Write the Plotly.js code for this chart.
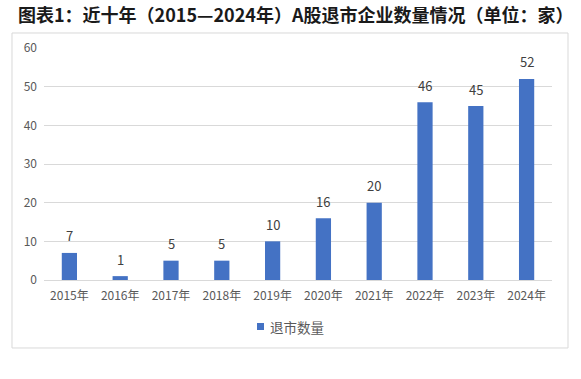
<!DOCTYPE html>
<html>
<head>
<meta charset="utf-8">
<script src="https://cdn.plot.ly/plotly-3.0.1.min.js"></script>
<style>html,body{margin:0;padding:0;background:#fff;}#chart{width:581px;height:379px;}</style>
</head>
<body>
<div id="chart"></div>
<script>
const years = ["2015年","2016年","2017年","2018年","2019年","2020年","2021年","2022年","2023年","2024年"];
const delisted = [7, 1, 5, 5, 10, 16, 20, 46, 45, 52];
const seriesName = "退市数量";
const yTicks = [0, 10, 20, 30, 40, 50, 60];

const font = "Noto Sans CJK SC, sans-serif";
const barColor = "#4472C4";
const trace = {
  type: "bar",
  x: years,
  y: delisted,
  name: seriesName,
  marker: {color: barColor},
  hoverinfo: "none",
  showlegend: false
};
const labelAnnotations = years.map((yr, i) => ({
  x: yr, y: delisted[i], xref: "x", yref: "y",
  text: String(delisted[i]), showarrow: false,
  yanchor: "middle", yshift: 17,
  font: {family: font, size: 13, color: "#404040"}
}));
const legendAnnotation = {
  xref: "paper", yref: "paper",
  x: (268 - 44) / 508, xanchor: "left",
  y: (280 - 327) / 232, yanchor: "middle",
  text: seriesName, showarrow: false,
  font: {family: font, size: 13.5, color: "#595959"}
};
const layout = {
  width: 581, height: 379,
  margin: {l: 44, r: 29, t: 48, b: 99},
  paper_bgcolor: "#ffffff",
  plot_bgcolor: "#ffffff",
  bargap: 0.7,
  title: {
    text: "<b>图表1：近十年（2015—2024年）A股退市企业数量情况（单位：家）</b>",
    font: {family: font, size: 18, color: "#1a1a1a"},
    xref: "container", yref: "container",
    x: 18/581, xanchor: "left",
    y: 1 - 16/379, yanchor: "middle"
  },
  xaxis: {
    type: "category",
    tickfont: {family: font, size: 12, color: "#595959"},
    showline: true, linecolor: "#d9d9d9", linewidth: 1,
    ticks: "", showgrid: false, fixedrange: true,
    ticklabelstandoff: 5
  },
  yaxis: {
    range: [0, 60],
    tickvals: yTicks,
    tickfont: {family: font, size: 12, color: "#595959"},
    showgrid: true, gridcolor: "#d9d9d9", gridwidth: 1,
    zeroline: false, showline: false, ticks: "",
    ticklabelstandoff: 6,
    fixedrange: true
  },
  showlegend: false,
  annotations: labelAnnotations.concat([legendAnnotation]),
  shapes: [{
    type: "rect", xref: "paper", yref: "paper",
    x0: -0.063, x1: 1.0315, y0: -0.293, y1: 1.0647,
    line: {color: "#d9d9d9", width: 1}, fillcolor: "rgba(0,0,0,0)", layer: "below"
  }, {
    type: "rect", xref: "paper", yref: "paper",
    x0: (257 - 44) / 508, x1: (264 - 44) / 508,
    y0: (280 - 323) / 232, y1: (280 - 330) / 232,
    line: {width: 0}, fillcolor: barColor
  }]
};
Plotly.newPlot("chart", [trace], layout, {displayModeBar: false, staticPlot: true});
</script>
</body>
</html>
